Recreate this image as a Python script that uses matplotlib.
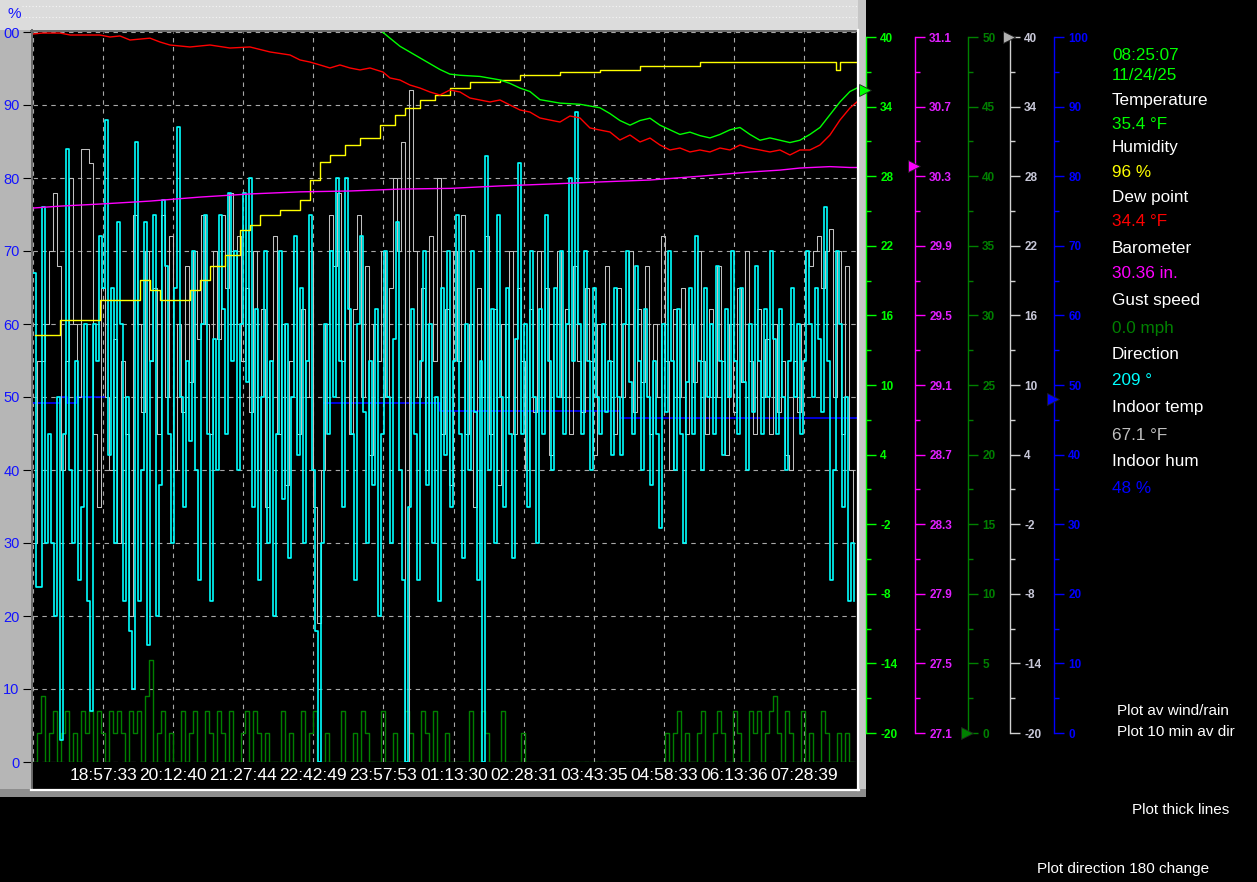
import numpy as np
import matplotlib
matplotlib.use("Agg")
import matplotlib.pyplot as plt
from matplotlib.patches import Rectangle
from matplotlib.lines import Line2D
from matplotlib.ticker import AutoMinorLocator

plt.rcParams['font.family'] = ['Liberation Sans', 'DejaVu Sans']

# ---------------- data ----------------
START_TIME = "17:42:27"
END_TIME = "08:25:07"
TIME_LABELS = ["18:57:33", "20:12:40", "21:27:44", "22:42:49", "23:57:53", "01:13:30",
               "02:28:31", "03:43:35", "04:58:33", "06:13:36", "07:28:39"]

# outdoor temperature (deg F), minutes since start
temp_t = [0, 200, 360, 374.9, 382.4, 393.1, 403.8, 414.5, 425.2, 435.9, 446.6, 457.4, 478.8,
          500.2, 510.9, 521.6, 532.3, 543.0, 564.5, 585.9, 607.3, 618.0, 628.7, 639.5, 650.2,
          660.9, 671.6, 682.3, 693.0, 703.7, 714.4, 725.1, 735.9, 746.6, 757.3, 768.0, 778.7,
          789.4, 800.1, 810.8, 821.5, 832.2, 843.0, 853.7, 864.4, 875.1, 882.6]
temp_v = [44.0, 43.0, 41.5, 40.4, 39.9, 39.2, 38.7, 38.2, 37.7, 37.2, 36.8, 36.7, 36.6,
          36.3, 36.0, 35.6, 35.3, 34.6, 34.3, 34.2, 33.9, 33.4, 32.8, 32.4, 32.8,
          33.0, 32.4, 32.0, 31.6, 31.8, 31.5, 31.3, 31.6, 32.0, 32.2, 31.6, 31.1,
          31.3, 31.1, 30.9, 31.1, 31.6, 32.2, 33.3, 34.4, 35.3, 35.6]

# dew point (deg F)
dew_t = [0, 10, 28.9, 40, 50.3, 71.8, 82.5, 93.2, 103.9, 125.3, 136.0, 146.7, 168.2, 189.6,
         211.0, 232.4, 253.9, 275.3, 286.0, 296.7, 307.4, 318.1, 328.8, 339.5, 350.3, 361.0,
         374.9, 382.4, 393.1, 403.8, 414.5, 425.2, 435.9, 446.6, 457.4, 468.1, 478.8, 489.5,
         500.2, 510.9, 521.6, 532.3, 543.0, 553.8, 564.5, 575.2, 585.9, 596.6, 607.3, 618.0,
         628.7, 639.5, 650.2, 660.9, 671.6, 682.3, 693.0, 703.7, 714.4, 725.1, 735.9, 746.6,
         757.3, 768.0, 778.7, 789.4, 800.1, 810.8, 821.5, 832.2, 843.0, 853.7, 864.4, 875.1, 882.6]
dew_v = [40.26, 40.34, 40.34, 40.17, 40.17, 40.17, 40.0, 40.09, 39.74, 39.9, 39.57, 39.31, 39.14, 39.31,
         39.05, 39.14, 38.71, 38.45, 38.02, 37.84, 37.59, 37.33, 37.59, 37.33, 37.16, 37.33,
         36.98, 36.47, 36.29, 35.86, 35.6, 35.26, 35.0, 35.43, 35.26, 34.74, 34.57, 34.40,
         34.57, 34.14, 33.71, 33.53, 33.02, 32.84, 32.67, 33.19, 33.02, 32.16, 31.98, 31.81,
         31.12, 31.55, 30.95, 31.29, 30.69, 30.26, 30.43, 30.09, 30.26, 30.09, 30.43, 30.26,
         30.69, 30.43, 30.26, 30.09, 30.26, 29.83, 30.26, 30.26, 30.69, 31.55, 32.84, 33.88, 34.40]

# barometer (inHg)
baro_t = [0, 28.9, 71.8, 125.3, 178.9, 232.4, 286.0, 339.5, 393.1, 446.6, 500.2, 553.8,
          607.3, 660.9, 714.4, 768.0, 800.1, 821.5, 853.7, 875.1, 882.6]
baro_v = [30.117, 30.128, 30.14, 30.157, 30.18, 30.198, 30.21, 30.215, 30.226, 30.23, 30.244,
          30.255, 30.267, 30.278, 30.30, 30.324, 30.335, 30.347, 30.355, 30.35, 30.35]

# outdoor humidity (%)
hum_t = [2.1, 28.9, 71.8, 114.6, 125.3, 136.0, 168.2, 178.9, 189.6, 205.7, 221.7, 232.4, 243.1,
         264.6, 286.0, 296.7, 307.4, 318.1, 334.2, 350.3, 371.7, 387.8, 398.5, 414.5, 430.6,
         446.6, 468.1, 500.2, 521.6, 564.5, 607.3, 650.2, 714.4, 860.1, 864.4, 882.6]
hum_v = [58.5, 60.5, 63.3, 66.0, 64.7, 63.3, 64.7, 66.0, 68.0, 69.5, 72.9, 73.5, 75.0,
         75.6, 77.0, 79.7, 82.2, 83.2, 84.5, 85.5, 87.3, 88.6, 89.6, 90.7, 91.4,
         92.3, 93.2, 93.4, 94.1, 94.5, 94.8, 95.3, 95.9, 94.8, 95.9, 95.9]

# indoor humidity (%)
hum_in_t = [0, 28.9, 36.4, 47.1, 76.1, 312.0, 435.9, 628.7, 882.6]
hum_in_v = [47.4, 48.3, 47.4, 48.3, np.nan, 47.4, 46.3, 45.3, 45.3]

# wind direction trace (plotted on % scale), one reading every DIR_STEP minutes
DIR_STEP = 3.21
dir_v = [67, 24, 24, 76, 30, 45, 30, 20, 50, 3, 45, 84, 40, 30, 55, 25, 35, 60, 22, 7,
         60, 55, 72, 65, 88, 42, 65, 30, 74, 60, 22, 50, 18, 10, 85, 22, 40, 74, 16, 55,
         75, 20, 38, 77, 68, 45, 30, 65, 87, 50, 35, 55, 44, 70, 40, 25, 60, 75, 45, 22,
         58, 40, 75, 62, 45, 78, 55, 70, 40, 60, 78, 52, 80, 35, 62, 25, 50, 70, 30, 55,
         20, 45, 70, 36, 60, 28, 50, 72, 42, 65, 30, 55, 75, 40, 18, 0, 30, 60, 45, 70,
         50, 80, 55, 35, 80, 62, 45, 25, 60, 72, 48, 30, 55, 38, 62, 20, 45, 70, 50, 30,
         58, 74, 40, 25, 0, 35, 62, 45, 25, 55, 70, 38, 60, 30, 50, 22, 65, 42, 70, 35,
         55, 75, 45, 28, 60, 40, 70, 48, 25, 55, 0, 83, 40, 62, 30, 75, 50, 35, 65, 45,
         28, 58, 82, 45, 60, 35, 70, 50, 30, 62, 45, 75, 55, 40, 65, 50, 70, 45, 60, 80,
         55, 89, 60, 45, 70, 55, 40, 65, 50, 45, 60, 48, 55, 42, 65, 50, 42, 60, 70, 52,
         45, 68, 55, 40, 62, 50, 38, 55, 45, 32, 60, 48, 70, 55, 40, 62, 45, 30, 52, 65,
         45, 72, 55, 40, 65, 50, 60, 45, 68, 55, 42, 62, 50, 70, 55, 45, 65, 52, 40, 60,
         48, 68, 55, 45, 62, 50, 70, 58, 45, 62, 50, 40, 55, 65, 50, 60, 45, 55, 70, 60,
         50, 65, 58, 48, 76, 55, 25, 40, 70, 60, 35, 50, 22, 30, 22]

# grey trace (plotted on % scale), one reading every GREY_STEP minutes
GREY_STEP = 4.284
grey_v = [30, 55, 55, 60, 70, 78, 68, 40, 55, 80, 60, 50, 84, 84, 82, 45, 35, 65, 50, 40,
          58, 30, 55, 45, 20, 75, 60, 48, 70, 55, 65, 45, 75, 50, 72, 40, 60, 48, 68, 52,
          70, 58, 75, 60, 45, 70, 58, 75, 65, 78, 60, 72, 55, 65, 48, 70, 40, 62, 35, 55,
          72, 45, 60, 38, 55, 70, 45, 62, 50, 70, 35, 19, 40, 60, 75, 68, 78, 55, 70, 45,
          62, 75, 50, 68, 42, 60, 55, 70, 50, 65, 80, 70, 85, 0, 92, 70, 50, 65, 40, 72,
          55, 80, 45, 62, 38, 70, 55, 75, 45, 60, 35, 65, 50, 72, 45, 62, 38, 60, 50, 70,
          45, 65, 55, 40, 62, 48, 70, 50, 65, 42, 60, 70, 50, 62, 45, 68, 55, 48, 65, 55,
          42, 60, 50, 68, 55, 45, 65, 50, 60, 70, 48, 62, 52, 68, 45, 60, 50, 72, 55, 40,
          62, 50, 65, 45, 60, 52, 70, 55, 45, 62, 50, 68, 55, 42, 60, 48, 65, 52, 70, 55,
          45, 62, 50, 58, 45, 60, 48, 55, 42, 40, 55, 48, 60, 70, 68, 70, 72, 65, 70, 73,
          50, 70, 45, 68, 40, 30]

# gust speed trace (plotted on % scale), one reading every GUST_STEP minutes
GUST_STEP = 4.284
gust_v = [0, 4, 9, 0, 4, 7, 0, 4, 7, 0, 4, 0, 7, 4, 7, 0, 7, 4, 0, 7,
          4, 7, 4, 0, 7, 4, 7, 0, 9, 14, 0, 4, 7, 0, 4, 0, 0, 7, 0, 4,
          7, 0, 0, 7, 4, 0, 7, 4, 0, 7, 0, 0, 4, 7, 0, 7, 4, 0, 4, 0,
          0, 0, 7, 0, 4, 0, 0, 7, 0, 4, 7, 0, 0, 4, 0, 0, 0, 7, 0, 0,
          4, 0, 7, 4, 0, 0, 0, 7, 0, 0, 4, 0, 0, 7, 4, 0, 0, 7, 4, 0,
          7, 0, 0, 4, 0, 0, 0, 0, 0, 7, 0, 0, 7, 4, 0, 0, 0, 7, 0, 0,
          0, 0, 4, 0,
          0, 0, 0, 0, 0, 0, 0, 0, 0, 0, 0, 0, 0, 0, 0, 0, 0, 0, 0, 0,
          0, 0, 0, 0, 0, 0, 0, 0, 0, 0, 0, 0, 0, 0,
          4, 0, 4, 7, 0, 4, 0, 0, 4, 7, 0, 0, 4, 7, 4, 0, 0, 7, 4, 0,
          0, 7, 4, 7, 0, 4, 7, 9, 4, 0, 7, 4, 0, 0, 7, 0, 4, 0, 0, 7,
          4, 0, 0, 4, 0, 4, 0, 0]

# scales on the right
TEMP_TICKS = [-20, -14, -8, -2, 4, 10, 16, 22, 28, 34, 40]
BARO_TICKS = [27.1, 27.5, 27.9, 28.3, 28.7, 29.1, 29.5, 29.9, 30.3, 30.7, 31.1]
GUST_TICKS = [0, 5, 10, 15, 20, 25, 30, 35, 40, 45, 50]
ITEMP_TICKS = [-20, -14, -8, -2, 4, 10, 16, 22, 28, 34, 40]
IHUM_TICKS = [0, 10, 20, 30, 40, 50, 60, 70, 80, 90, 100]
PCT_TICKS = [0, 10, 20, 30, 40, 50, 60, 70, 80, 90, 100]

# current readings
NOW_TIME = "08:25:07"
NOW_DATE = "11/24/25"
CUR_TEMP = 35.4
CUR_HUM = 96
CUR_DEW = 34.4
CUR_BARO = 30.36
CUR_GUST = 0.0
CUR_DIR = 209
CUR_ITEMP = 67.1
CUR_IHUM = 48

# ---------------- colours ----------------
C_TEMP = '#00ff00'
C_DEW = '#ff0000'
C_HUM = '#ffff00'
C_BARO = '#ff00ff'
C_GUST = '#008000'
C_DIR = '#00ffff'
C_GREY = '#c0c0c0'
C_IHUM = '#0000ff'

# ---------------- figure ----------------
W, H = 1257, 882
fig = plt.figure(figsize=(W / 100, H / 100), dpi=100, facecolor='black')


def fx(x):
    return x / W


def fy(y):
    return 1 - y / H


def rect(x0, y0, x1, y1, color, z=-2):
    fig.patches.append(Rectangle((fx(x0), fy(y1)), fx(x1) - fx(x0), fy(y0) - fy(y1),
                                 transform=fig.transFigure, facecolor=color,
                                 edgecolor='none', zorder=z))


def fline(xs, ys, color, lw, z=5, ls='-'):
    fig.add_artist(Line2D([fx(v) for v in xs], [fy(v) for v in ys], color=color, lw=lw,
                          transform=fig.transFigure, zorder=z, linestyle=ls))


# grey panel
rect(0, 0, 866, 797, '#b6b6b6')
rect(0, 0, 866, 30, '#dcdcdc')
rect(858, 0, 866, 797, '#c6c6c6')
rect(0, 789, 866, 797, '#8e8e8e')
rect(32, 762, 857, 789, 'black', z=-1)
fline([22, 858], [6, 6], '#f6f6f6', 0.8, z=-1, ls=(0, (1, 2)))
fline([22, 858], [17, 17], '#f6f6f6', 0.8, z=-1, ls=(0, (1, 2)))
# borders
fline([31, 858], [31, 31], '#6a6a6a', 1.4)
fline([32, 32], [30, 789], '#6a6a6a', 1.4)
fline([31, 859], [789.5, 789.5], 'white', 1.6)
fline([858, 858], [30, 790], 'white', 1.6)


def to_min(s):
    h, m, sec = map(int, s.split(':'))
    sh, sm, ss = map(int, START_TIME.split(':'))
    t = (h * 60 + m + sec / 60) - (sh * 60 + sm + ss / 60)
    return t + 1440 if t < 0 else t


TOTAL = to_min(END_TIME)
tick_pos = [to_min(s) for s in TIME_LABELS]

ax = fig.add_axes([fx(33), fy(762), (857 - 33) / W, (762 - 32) / H])
ax.set_facecolor('black')
ax.set_xlim(0, TOTAL)
ax.set_ylim(0, 100)
for s in ax.spines.values():
    s.set_visible(False)
ax.set_yticks(PCT_TICKS)
ax.set_yticklabels(['00' if v == 100 else str(v) for v in PCT_TICKS])
ax.tick_params(axis='y', length=7.2, width=0.8, color='black', labelcolor='#1414ff',
               labelsize=10.5, pad=2.5)
ax.set_xticks(tick_pos)
ax.set_xticklabels(TIME_LABELS)
ax.tick_params(axis='x', length=0, labelcolor='white', labelsize=12.5, pad=4)
ax.grid(True, color='#a8a8a8', linestyle=(0, (4, 4)), linewidth=0.8)
ax.axvline(0, color='#a8a8a8', linestyle=(0, (4, 4)), linewidth=0.8)
ax.set_axisbelow(True)

gust_t = np.arange(len(gust_v)) * GUST_STEP
ax.plot(gust_t, gust_v, color=C_GUST, lw=1.0, drawstyle='steps-post')


def overlay(lo, hi):
    a = ax.twinx()
    a.set_ylim(lo, hi)
    a.patch.set_visible(False)
    for s in a.spines.values():
        s.set_visible(False)
    a.tick_params(right=False, labelright=False)
    return a


# right-scale mapping: scale spans y=733 (low) .. y=37 (high), plot spans 762..32
def lims(lo, hi):
    per = 696 / (hi - lo)
    return lo - 29 / per, hi + 5 / per


ax_ihum = overlay(*lims(0, 100))
ax_ihum.plot(hum_in_t, hum_in_v, color=C_IHUM, lw=1.2, drawstyle='steps-post')

ax_pct = overlay(0, 100)
grey_t = np.arange(len(grey_v)) * GREY_STEP
ax_pct.plot(grey_t, grey_v, color=C_GREY, lw=0.75, drawstyle='steps-post')
dir_t = np.arange(len(dir_v)) * DIR_STEP
ax_pct.plot(dir_t, dir_v, color=C_DIR, lw=1.2, drawstyle='steps-post')
ax_pct.plot(hum_t, hum_v, color=C_HUM, lw=1.0, drawstyle='steps-post')

ax_baro = overlay(*lims(27.1, 31.1))
ax_baro.plot(baro_t, baro_v, color=C_BARO, lw=1.0)

ax_temp = overlay(*lims(-20, 40))
ax_temp.plot(dew_t, dew_v, color=C_DEW, lw=1.0)
ax_temp.plot(temp_t, temp_v, color=C_TEMP, lw=1.0)


# ---------------- right-hand scales ----------------
def scale_axis(x_spine, ticks, labels, color, lab_color, cur, marker_color):
    w = 20
    a = fig.add_axes([fx(x_spine - w), fy(733), w / W, 696 / H])
    a.set_xlim(0, w)
    a.set_ylim(ticks[0], ticks[-1])
    a.patch.set_visible(False)
    for k, s in a.spines.items():
        s.set_visible(k == 'right')
    a.spines['right'].set_color(color)
    a.spines['right'].set_linewidth(1.0)
    a.set_xticks([])
    a.yaxis.tick_right()
    a.set_yticks(ticks)
    a.set_yticklabels(labels)
    a.yaxis.set_minor_locator(AutoMinorLocator(2))
    a.tick_params(axis='y', which='major', length=7.2, width=1.0, color=color,
                  labelcolor=lab_color, labelsize=8.5, pad=3)
    a.tick_params(axis='y', which='minor', length=3.6, width=1.0, color=color)
    for lab in a.get_yticklabels():
        lab.set_fontweight('bold')
    val = min(max(cur, ticks[0]), ticks[-1])
    a.plot([w - 1], [val], marker='>', ms=8, color=marker_color, mec='#202020', mew=0.6,
           clip_on=False, zorder=10)
    return a


scale_axis(866, TEMP_TICKS, [str(v) for v in TEMP_TICKS], C_TEMP, C_TEMP, CUR_TEMP, C_TEMP)
scale_axis(915, BARO_TICKS, ['%.1f' % v for v in BARO_TICKS], C_BARO, '#e020ff', CUR_BARO, C_BARO)
scale_axis(968, GUST_TICKS, [str(v) for v in GUST_TICKS], C_GUST, C_GUST, CUR_GUST, C_GUST)
scale_axis(1010, ITEMP_TICKS, [str(v) for v in ITEMP_TICKS], '#d0d0d0', '#c8c8d8', CUR_ITEMP, '#b0b0b0')
scale_axis(1054, IHUM_TICKS, [str(v) for v in IHUM_TICKS], C_IHUM, C_IHUM, CUR_IHUM, C_IHUM)

# ---------------- texts ----------------
fig.text(fx(7), fy(18), '%', color='#1414ff', fontsize=11, va='baseline')

panel = [
    (NOW_TIME, C_TEMP, 60),
    (NOW_DATE, C_TEMP, 80),
    ('Temperature', 'white', 105),
    ('%.1f °F' % CUR_TEMP, C_TEMP, 129),
    ('Humidity', 'white', 152),
    ('%d %%' % CUR_HUM, C_HUM, 177),
    ('Dew point', 'white', 202),
    ('%.1f °F' % CUR_DEW, C_DEW, 226),
    ('Barometer', 'white', 253),
    ('%.2f in.' % CUR_BARO, C_BARO, 278),
    ('Gust speed', 'white', 305),
    ('%.1f mph' % CUR_GUST, C_GUST, 333),
    ('Direction', 'white', 359),
    ('%d °' % CUR_DIR, C_DIR, 385),
    ('Indoor temp', 'white', 412),
    ('%.1f °F' % CUR_ITEMP, '#c0c0c0', 440),
    ('Indoor hum', 'white', 466),
    ('%d %%' % CUR_IHUM, C_IHUM, 493),
]
for s, c, yb in panel:
    fig.text(fx(1112), fy(yb), s, color=c, fontsize=12.3, va='baseline')

fig.text(fx(1117), fy(715), 'Plot av wind/rain', color='white', fontsize=11, va='baseline')
fig.text(fx(1117), fy(736), 'Plot 10 min av dir', color='white', fontsize=11, va='baseline')
fig.text(fx(1132), fy(814), 'Plot thick lines', color='white', fontsize=11, va='baseline')
fig.text(fx(1037), fy(873), 'Plot direction 180 change', color='white', fontsize=11, va='baseline')

fig.savefig('out.png', dpi=100, facecolor='black')
